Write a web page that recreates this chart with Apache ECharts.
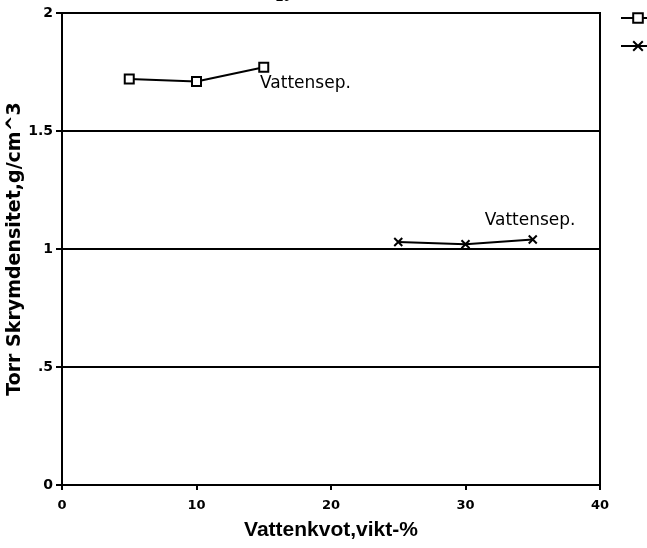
<!DOCTYPE html>
<html><head><meta charset="utf-8">
<script src="https://cdn.jsdelivr.net/npm/echarts@6/dist/echarts.min.js"></script>
<style>html,body{margin:0;padding:0;background:#fff}#c{width:647px;height:548px}</style>
</head><body><div id="c"></div>
<script>
const xTicks = [0, 10, 20, 30, 40];
const yTicks = [0, 0.5, 1, 1.5, 2];
const seriesA_x = [5, 10, 15];
const seriesA_y = [1.72, 1.71, 1.77];
const seriesB_x = [25, 30, 35];
const seriesB_y = [1.03, 1.02, 1.04];
const noteA = {x: 18.1, y: 1.70, text: 'Vattensep.'};
const noteB = {x: 34.8, y: 1.12, text: 'Vattensep.'};

const chart = echarts.init(document.getElementById('c'));
const F = '"Liberation Sans", Arial, sans-serif';
const D = '"DejaVu Sans", sans-serif';
const crossPath = 'path://M0,0L10,10M10,0L0,10';
function pairs(xs, ys){ return xs.map((x,i)=>[x, ys[i]]); }
function note(n){
  return {coord:[n.x,n.y], symbol:'circle', symbolSize:0, value:n.text,
    label:{show:true, position:'inside', formatter:n.text, color:'#000',
      fontFamily:D, fontSize:17}};
}
chart.setOption({
  animation:false,
  backgroundColor:'#fff',
  grid:{left:62, right:47, top:13, bottom:63, show:true, borderColor:'#000', borderWidth:2,
    backgroundColor:'transparent', containLabel:false, outerBoundsMode:'none'},
  legend:{orient:'vertical', left:615, top:7, itemWidth:34, itemHeight:12, itemGap:16,
    textStyle:{color:'#000', fontFamily:F}, data:['A','B']},
  xAxis:{type:'value', min:xTicks[0], max:xTicks[xTicks.length-1], interval:10,
    name:'Vattenkvot,vikt-%', nameLocation:'middle', nameGap:35,
    nameTextStyle:{color:'#000', fontFamily:F, fontWeight:'bold', fontSize:21},
    axisLine:{show:true, lineStyle:{color:'#000', width:2}},
    axisTick:{show:true, length:5, lineStyle:{color:'#000', width:2}},
    axisLabel:{color:'#000', fontFamily:D, fontWeight:'bold', fontSize:13, margin:14},
    splitLine:{show:false}},
  yAxis:{type:'value', min:yTicks[0], max:yTicks[yTicks.length-1], interval:0.5,
    name:'Torr Skrymdensitet,g/cm^3', nameLocation:'middle', nameGap:37, nameMoveOverlap:false,
    nameTextStyle:{color:'#000', fontFamily:D, fontWeight:'bold', fontSize:19},
    axisLine:{show:true, lineStyle:{color:'#000', width:2}},
    axisTick:{show:true, length:6, lineStyle:{color:'#000', width:2}},
    axisLabel:{color:'#000', fontFamily:D, fontWeight:'bold', fontSize:14, margin:9,
      formatter:v=> v===0?'0':String(v).replace(/^0\./,'.')},
    splitLine:{show:true, lineStyle:{color:'#000', width:2}}},
  graphic:[{type:'text', left:276, top:-9, style:{text:'20', fill:'#000', font:'bold 13px '+F}}],
  series:[
    {name:'A', type:'line', data:pairs(seriesA_x, seriesA_y), symbol:'rect', symbolSize:9,
      lineStyle:{color:'#000', width:2}, itemStyle:{color:'#fff', borderColor:'#000', borderWidth:2},
      markPoint:{data:[note(noteA)]}},
    {name:'B', type:'line', data:pairs(seriesB_x, seriesB_y), symbol:crossPath, symbolSize:8,
      lineStyle:{color:'#000', width:2}, itemStyle:{color:'#000', borderColor:'#000', borderWidth:2},
      markPoint:{data:[note(noteB)]}}
  ]
});
</script></body></html>
